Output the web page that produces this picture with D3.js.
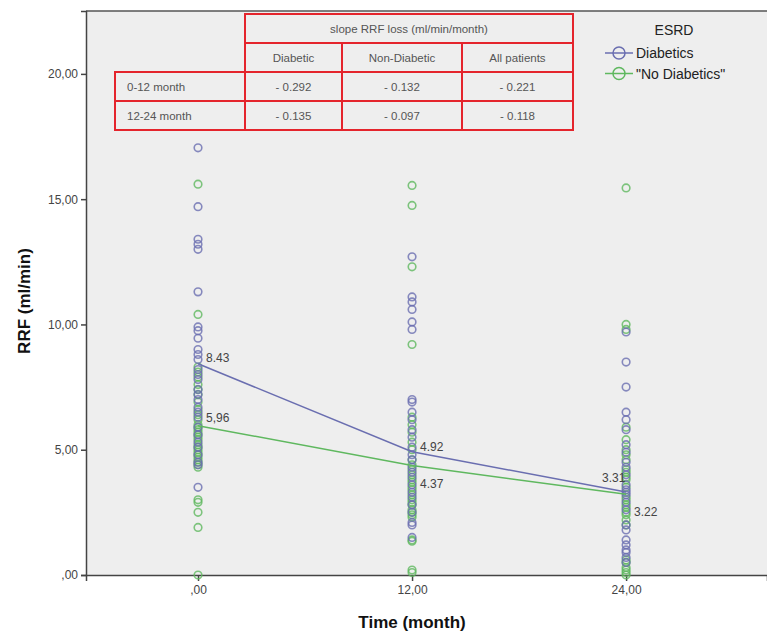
<!DOCTYPE html>
<html>
<head>
<meta charset="utf-8">
<script src="https://cdn.jsdelivr.net/npm/d3@7"></script>
<style>
  body { margin: 0; background: #fff; }
  svg { display: block; font-family: "Liberation Sans", Arial, sans-serif; }
</style>
</head>
<body>
<div id="chart"></div>
<script>
const width = 767;
const height = 633;

// observations (RRF, ml/min) at each time point
const diabetic0 = [17.05, 14.7, 13.4, 13.2, 13.0, 11.3, 9.9, 9.75, 9.45, 9.0, 8.8, 8.6, 8.2, 8.0, 7.8, 7.4, 7.2, 7.0, 6.7, 6.5, 6.3, 5.9, 5.6, 5.3, 5.1, 4.8, 4.5, 4.4, 3.5];
const nonDiabetic0 = [15.6, 10.4, 8.3, 8.1, 7.9, 7.6, 7.4, 7.2, 6.9, 6.6, 6.4, 6.2, 6.0, 5.9, 5.8, 5.7, 5.6, 5.5, 5.4, 5.2, 5.1, 5.0, 4.9, 4.8, 4.7, 4.6, 4.5, 4.4, 4.3, 3.0, 2.9, 2.5, 1.9, 0.0];
const diabetic12 = [12.7, 11.1, 10.9, 10.6, 10.1, 9.8, 7.0, 6.9, 6.5, 6.2, 5.8, 5.5, 5.1, 4.8, 4.6, 4.3, 4.1, 3.9, 3.6, 3.3, 3.1, 2.8, 2.5, 2.1, 2.0, 1.5];
const nonDiabetic12 = [15.55, 14.75, 12.3, 9.2, 6.3, 6.0, 5.7, 5.3, 5.0, 4.6, 4.4, 4.2, 4.0, 3.8, 3.7, 3.5, 3.4, 3.2, 3.0, 2.9, 2.8, 2.6, 2.5, 2.4, 2.3, 1.4, 1.35, 0.2, 0.1];
const diabetic24 = [9.7, 8.5, 7.5, 6.5, 6.2, 5.8, 5.2, 4.9, 4.5, 4.3, 4.0, 3.6, 3.4, 3.3, 3.2, 2.9, 2.6, 2.0, 1.8, 1.4, 1.2, 1.0, 0.9, 0.7, 0.5];
const nonDiabetic24 = [15.45, 10.0, 9.8, 5.9, 5.4, 5.0, 4.8, 4.6, 4.2, 4.1, 3.9, 3.8, 3.5, 3.1, 3.0, 2.8, 2.7, 2.5, 2.4, 2.2, 2.0, 0.6, 0.5, 0.3, 0.2, 0.1, 0.0];

// group means
const times = [0, 12, 24];
const diabeticMeans = [8.43, 4.92, 3.31];
const nonDiabeticMeans = [5.96, 4.37, 3.22];
const diabeticMeanLabels = ["8.43", "4.92", "3.31"];
const nonDiabeticMeanLabels = ["5,96", "4.37", "3.22"];

// inset table
const tableTitle = "slope RRF loss (ml/min/month)";
const tableCols = ["Diabetic", "Non-Diabetic", "All patients"];
const tableRows = ["0-12 month", "12-24 month"];
const slopes = [[-0.292, -0.132, -0.221], [-0.135, -0.097, -0.118]];

const xTicks = [0, 12, 24];
const yTicks = [0, 5, 10, 15, 20];
const legendLabels = ["Diabetics", "\"No Diabetics\""];

const blue = "#6a6eb0";
const green = "#5fb85f";

const svg = d3.select("#chart")
  .append("svg")
  .attr("width", width)
  .attr("height", height);

const plotLeft = 86, plotTop = 11, plotBottom = 575;

const x = d3.scaleLinear().domain([-6.28, 31.9]).range([plotLeft, width]);
const y = d3.scaleLinear().domain([0, 22.51]).range([plotBottom, plotTop]);

svg.append("rect")
  .attr("x", plotLeft)
  .attr("y", plotTop)
  .attr("width", width - plotLeft)
  .attr("height", plotBottom - plotTop)
  .attr("fill", "#eeeeee");

svg.append("line")
  .attr("x1", plotLeft).attr("x2", width)
  .attr("y1", plotTop).attr("y2", plotTop)
  .attr("stroke", "#555").attr("stroke-width", 1.5);

const fmt = v => v === 0 ? ",00" : d3.format(".2f")(v).replace(".", ",");

const yAxis = svg.append("g")
  .attr("transform", `translate(${plotLeft},0)`)
  .call(d3.axisLeft(y).tickValues(yTicks).tickFormat(fmt).tickSize(5).tickPadding(3));

const xAxis = svg.append("g")
  .attr("transform", `translate(0,${plotBottom})`)
  .call(d3.axisBottom(x).tickValues(xTicks).tickFormat(fmt).tickSize(6).tickPadding(4));

[yAxis, xAxis].forEach(g => {
  g.select(".domain").attr("stroke", "#444").attr("stroke-width", 1.5);
  g.selectAll(".tick line").attr("stroke", "#444").attr("stroke-width", 1.5);
  g.selectAll(".tick text").attr("fill", "#444").style("font-size", "12px")
    .style("font-family", "'Liberation Sans', Arial, sans-serif");
});

svg.append("text")
  .attr("transform", `translate(30,${(plotTop + plotBottom) / 2 + 8}) rotate(-90)`)
  .attr("text-anchor", "middle")
  .attr("font-weight", "bold")
  .attr("font-size", 17)
  .attr("fill", "#111")
  .text("RRF (ml/min)");

svg.append("text")
  .attr("x", x(12))
  .attr("y", 628)
  .attr("text-anchor", "middle")
  .attr("font-weight", "bold")
  .attr("font-size", 17)
  .attr("fill", "#111")
  .text("Time (month)");

// scatter points
const groups = [
  { t: 0, vals: nonDiabetic0, color: green },
  { t: 12, vals: nonDiabetic12, color: green },
  { t: 24, vals: nonDiabetic24, color: green },
  { t: 0, vals: diabetic0, color: blue },
  { t: 12, vals: diabetic12, color: blue },
  { t: 24, vals: diabetic24, color: blue }
];

groups.forEach(gr => {
  svg.append("g")
    .selectAll("circle")
    .data(gr.vals)
    .join("circle")
    .attr("cx", x(gr.t))
    .attr("cy", d => y(d))
    .attr("r", 3.8)
    .attr("fill", "none")
    .attr("stroke", gr.color)
    .attr("stroke-width", 1.6)
    .attr("stroke-opacity", 0.8);
});

// mean lines
const line = d3.line().x((d, i) => x(times[i])).y(d => y(d));

svg.append("path")
  .datum(diabeticMeans)
  .attr("d", line)
  .attr("fill", "none")
  .attr("stroke", blue)
  .attr("stroke-width", 1.5);

svg.append("path")
  .datum(nonDiabeticMeans)
  .attr("d", line)
  .attr("fill", "none")
  .attr("stroke", green)
  .attr("stroke-width", 1.5);

// mean labels
const labelOffsets = {
  d: [[8, -2], [8, -1], [-24, -10]],
  n: [[8, -4], [8, 22], [8, 22]]
};

svg.append("g")
  .selectAll("text")
  .data(diabeticMeans)
  .join("text")
  .attr("x", (d, i) => x(times[i]) + labelOffsets.d[i][0])
  .attr("y", (d, i) => y(d) + labelOffsets.d[i][1])
  .attr("font-size", 12)
  .attr("fill", "#444")
  .text((d, i) => diabeticMeanLabels[i]);

svg.append("g")
  .selectAll("text")
  .data(nonDiabeticMeans)
  .join("text")
  .attr("x", (d, i) => x(times[i]) + labelOffsets.n[i][0])
  .attr("y", (d, i) => y(d) + labelOffsets.n[i][1])
  .attr("font-size", 12)
  .attr("fill", "#444")
  .text((d, i) => nonDiabeticMeanLabels[i]);

// inset table
const colEdges = [115, 245, 342, 462, 573];
const rowEdges = [14, 43, 72, 101, 130];
const red = "#e4242c";
const table = svg.append("g").attr("font-size", 11.5).attr("fill", "#555");

function cell(x0, x1, y0, y1, txt, anchor) {
  table.append("rect")
    .attr("x", x0).attr("y", y0)
    .attr("width", x1 - x0).attr("height", y1 - y0)
    .attr("fill", "none")
    .attr("stroke", red)
    .attr("stroke-width", 2);
  table.append("text")
    .attr("x", anchor === "start" ? x0 + 12 : (x0 + x1) / 2)
    .attr("y", (y0 + y1) / 2 + 4)
    .attr("text-anchor", anchor || "middle")
    .text(txt);
}

cell(colEdges[1], colEdges[4], rowEdges[0], rowEdges[1], tableTitle);
tableCols.forEach((c, i) => cell(colEdges[i + 1], colEdges[i + 2], rowEdges[1], rowEdges[2], c));
tableRows.forEach((r, j) => {
  cell(colEdges[0], colEdges[1], rowEdges[j + 2], rowEdges[j + 3], r, "start");
  slopes[j].forEach((v, i) => cell(colEdges[i + 1], colEdges[i + 2], rowEdges[j + 2], rowEdges[j + 3],
    "- " + Math.abs(v).toFixed(3)));
});

// legend
const legend = svg.append("g").attr("font-size", 14).attr("fill", "#222");
legend.append("text")
  .attr("x", 674).attr("y", 35)
  .attr("text-anchor", "middle")
  .text("ESRD");

[blue, green].forEach((c, i) => {
  const ly = 53 + i * 20.5;
  legend.append("line")
    .attr("x1", 605).attr("x2", 633)
    .attr("y1", ly).attr("y2", ly)
    .attr("stroke", c).attr("stroke-width", 1.5);
  legend.append("circle")
    .attr("cx", 619).attr("cy", ly).attr("r", 6)
    .attr("fill", "none").attr("stroke", c).attr("stroke-width", 1.5);
  legend.append("text")
    .attr("x", 636).attr("y", ly + 5)
    .text(legendLabels[i]);
});
</script>
</body>
</html>
